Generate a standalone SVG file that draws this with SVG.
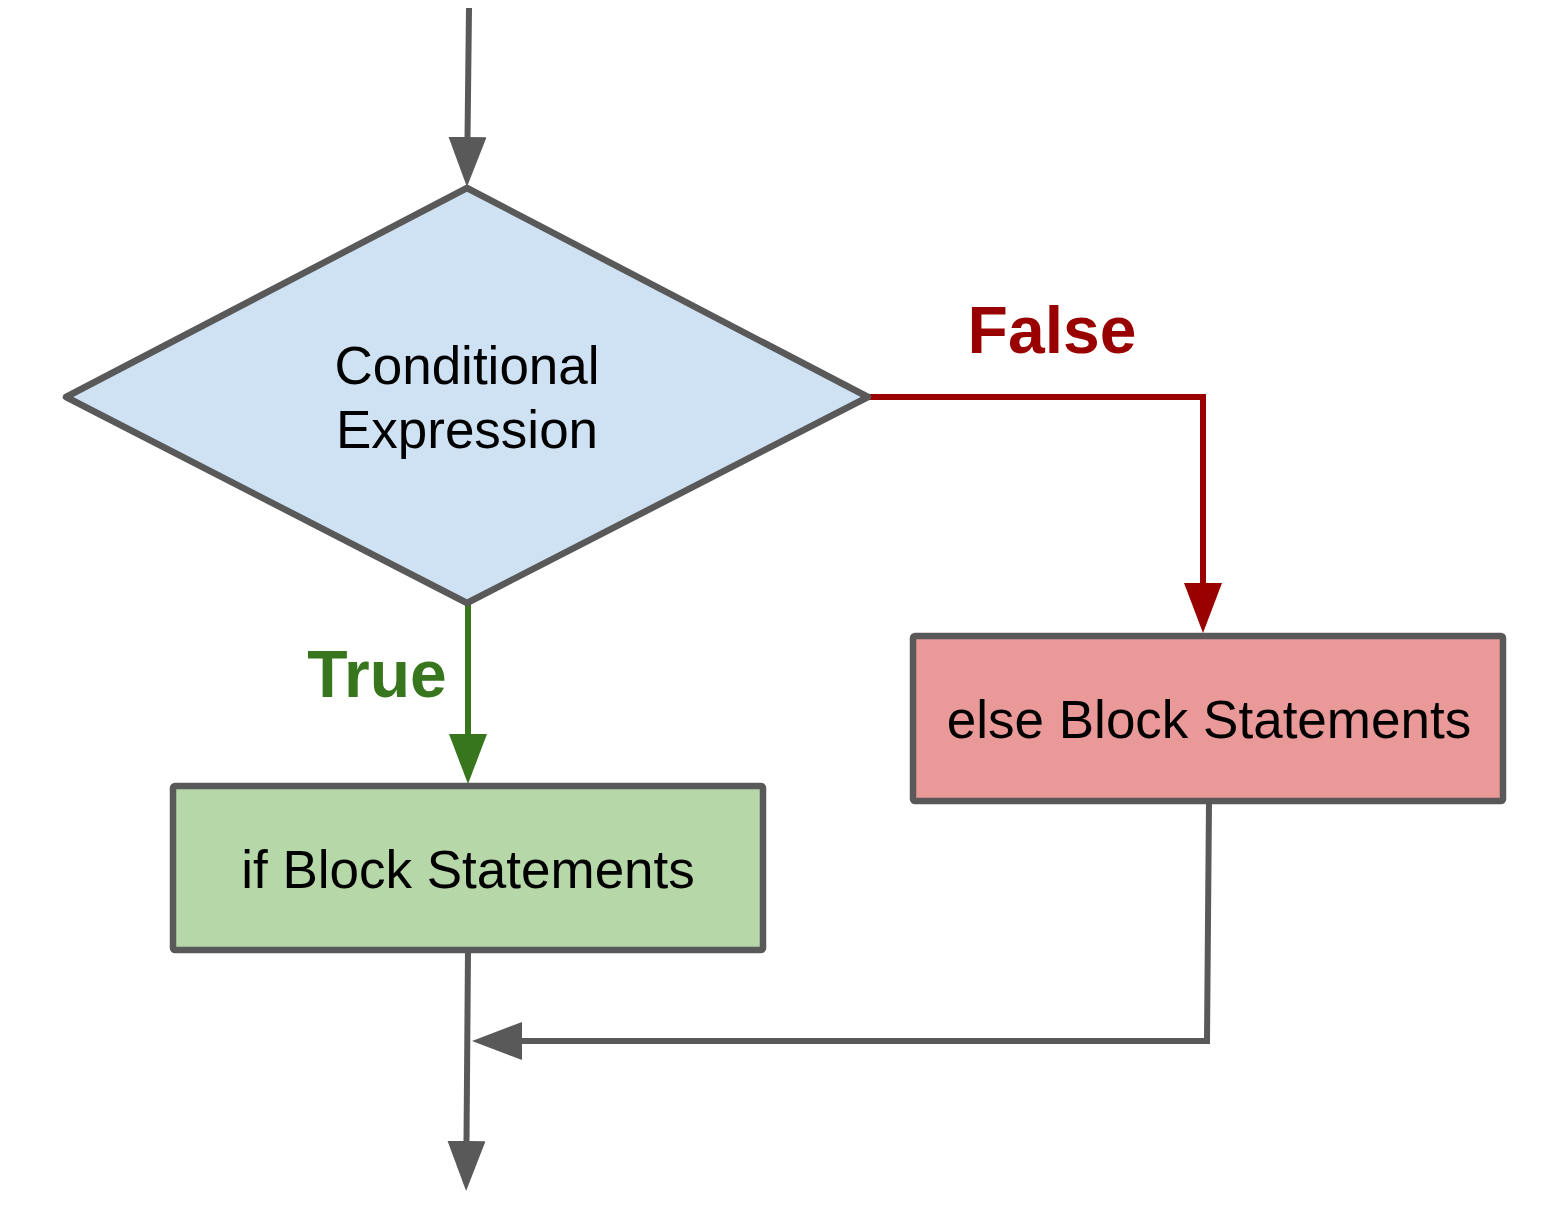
<svg xmlns="http://www.w3.org/2000/svg" width="1558" height="1219" viewBox="0 0 1558 1219">
<style>
.shape{stroke:#595959;stroke-width:6.5;stroke-linejoin:round}
.lbl{font-family:"Liberation Sans",Arial,sans-serif;font-size:53px;fill:#000;text-anchor:middle}
.edge{fill:none;stroke-width:6}
.elbl{font-family:"Liberation Sans",Arial,sans-serif;font-size:66px;font-weight:bold;text-anchor:middle}
</style>
<defs>
<marker id="ag" markerUnits="userSpaceOnUse" markerWidth="50" markerHeight="38" viewBox="0 0 50 38" refX="1" refY="19" orient="auto"><path d="M0,0 L50,19 L0,38 z" fill="#595959"/></marker>
<marker id="ar" markerUnits="userSpaceOnUse" markerWidth="50" markerHeight="38" viewBox="0 0 50 38" refX="1" refY="19" orient="auto"><path d="M0,0 L50,19 L0,38 z" fill="#990000"/></marker>
<marker id="agr" markerUnits="userSpaceOnUse" markerWidth="50" markerHeight="38" viewBox="0 0 50 38" refX="1" refY="19" orient="auto"><path d="M0,0 L50,19 L0,38 z" fill="#38761d"/></marker>
</defs>
<g id="connectors">
<path class="edge" stroke="#595959" d="M469,8 L467.5,138" marker-end="url(#ag)"/>
<path class="edge" stroke="#38761d" d="M468,604 L468,735" marker-end="url(#agr)"/>
<path class="edge" stroke="#990000" stroke-linejoin="miter" d="M868,397 H1203 V584" marker-end="url(#ar)"/>
<path class="edge" stroke="#595959" d="M468,950 L466.5,1142" marker-end="url(#ag)"/>
<path class="edge" stroke="#595959" stroke-linejoin="miter" d="M1209,801 L1207,1041 H521" marker-end="url(#ag)"/>
<text class="elbl" x="1052" y="353" fill="#990000">False</text>
<text class="elbl" x="377" y="697" fill="#38761d">True</text>
</g>
<g id="cond">
<polygon class="shape" points="467,188 868,397 467,603 66,397" fill="#cfe2f3"/>
<text class="lbl" x="467" y="384">Conditional</text>
<text class="lbl" x="467" y="448">Expression</text>
</g>
<g id="ifblock">
<rect class="shape" x="173" y="786" width="590" height="164" rx="2" fill="#b6d7a8"/>
<text class="lbl" x="468" y="888">if Block Statements</text>
</g>
<g id="elseblock">
<rect class="shape" x="913" y="636" width="590" height="165" rx="2" fill="#ea9999"/>
<text class="lbl" x="1209" y="738">else Block Statements</text>
</g>
</svg>
